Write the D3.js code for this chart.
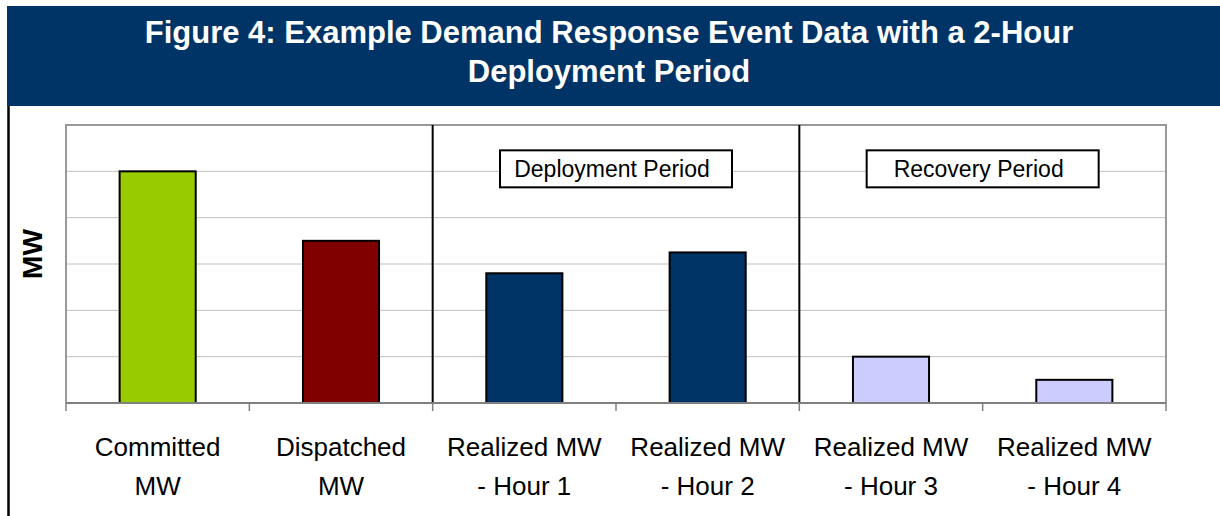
<!DOCTYPE html>
<html>
<head>
<meta charset="utf-8">
<script src="https://cdn.jsdelivr.net/npm/d3@7"></script>
<style>
  body { margin: 0; background: #fff; }
  text { font-family: "Liberation Sans", Arial, sans-serif; }
</style>
</head>
<body>
<div id="chart"></div>
<script>
// data (y axis has no labels, so values are in gridline units)
var categories = ["Committed MW", "Dispatched MW", "Realized MW - Hour 1",
                  "Realized MW - Hour 2", "Realized MW - Hour 3", "Realized MW - Hour 4"];
var labelLines = [["Committed", "MW"], ["Dispatched", "MW"], ["Realized MW", "- Hour 1"],
                  ["Realized MW", "- Hour 2"], ["Realized MW", "- Hour 3"], ["Realized MW", "- Hour 4"]];
var values = [5, 3.5, 2.8, 3.25, 1, 0.5];
var yTicks = [0, 1, 2, 3, 4, 5, 6];
var periods = [
  {label: "Deployment Period", first: "Realized MW - Hour 1", last: "Realized MW - Hour 2"},
  {label: "Recovery Period", first: "Realized MW - Hour 3", last: "Realized MW - Hour 4"}
];
var titleLines = ["Figure 4: Example Demand Response Event Data with a 2-Hour", "Deployment Period"];

var barColors = ["#99cc00", "#800000", "#003366", "#003366", "#ccccff", "#ccccff"];

var W = 1220, H = 516;
var margin = {top: 125, left: 66, right: 54, bottom: 113};
var width = W - margin.left - margin.right,
    height = H - margin.top - margin.bottom;

var svg = d3.select("#chart")
  .append("svg")
    .attr("width", W)
    .attr("height", H);

// header band
svg.append("rect")
  .attr("x", 7).attr("y", 6)
  .attr("width", W - 7).attr("height", 100)
  .attr("fill", "#003366");

svg.selectAll(".title")
  .data(titleLines)
  .enter().append("text")
    .attr("class", "title")
    .attr("x", 609)
    .attr("y", function(d, i) { return 43 + i * 39; })
    .attr("text-anchor", "middle")
    .attr("fill", "#fff")
    .attr("font-weight", "bold")
    .attr("font-size", "31px")
    .text(function(d) { return d; });

// left frame line
svg.append("line")
  .attr("x1", 8.5).attr("x2", 8.5)
  .attr("y1", 106).attr("y2", H)
  .attr("stroke", "#000")
  .attr("stroke-width", 2.5);

var g = svg.append("g")
  .attr("transform", "translate(" + margin.left + "," + margin.top + ")");

var x = d3.scaleBand()
  .domain(categories)
  .range([0, width])
  .paddingInner(0.585)
  .paddingOuter(0.2925);

var y = d3.scaleLinear()
  .domain([0, 6])
  .range([height, 0]);

// gridlines
g.selectAll(".grid")
  .data(yTicks.slice(1, -1))
  .enter().append("line")
    .attr("x1", 0).attr("x2", width)
    .attr("y1", function(d) { return y(d); })
    .attr("y2", function(d) { return y(d); })
    .attr("stroke", "#c0c0c0")
    .attr("stroke-width", 1);

// plot border (top, right, left)
g.append("path")
  .attr("d", "M0," + height + "V" + y(6) + "H" + width + "V" + height)
  .attr("fill", "none")
  .attr("stroke", "#999")
  .attr("stroke-width", 2);

// period dividers and boxes
var step = x.step();
function boundary(name) { return x(name) - x.paddingOuter() * step; }

g.selectAll(".divider")
  .data(periods)
  .enter().append("line")
    .attr("x1", function(d) { return boundary(d.first); })
    .attr("x2", function(d) { return boundary(d.first); })
    .attr("y1", y(6)).attr("y2", height)
    .attr("stroke", "#000")
    .attr("stroke-width", 2);

var box = g.selectAll(".period")
  .data(periods)
  .enter().append("g")
    .attr("class", "period")
    .attr("transform", function(d) {
      var cx = (boundary(d.first) + boundary(d.last) + step) / 2;
      return "translate(" + cx + "," + (y(5) - 2) + ")";
    });

box.append("rect")
  .attr("x", -116).attr("y", -19)
  .attr("width", 232).attr("height", 37)
  .attr("fill", "#fff")
  .attr("stroke", "#000")
  .attr("stroke-width", 2);

box.append("text")
  .attr("x", -4)
  .attr("text-anchor", "middle")
  .attr("dy", "0.35em")
  .attr("font-size", "23px")
  .attr("fill", "#000")
  .text(function(d) { return d.label; });

// bars
g.selectAll(".bar")
  .data(values)
  .enter().append("rect")
    .attr("class", "bar")
    .attr("x", function(d, i) { return x(categories[i]); })
    .attr("y", function(d) { return y(d); })
    .attr("width", x.bandwidth())
    .attr("height", function(d) { return height - y(d); })
    .attr("fill", function(d, i) { return barColors[i]; })
    .attr("stroke", "#000")
    .attr("stroke-width", 2);

// x axis: baseline and ticks at category boundaries
var axis = g.append("g")
  .attr("transform", "translate(0," + height + ")");

axis.append("line")
  .attr("x1", 0).attr("x2", width)
  .attr("stroke", "#808080")
  .attr("stroke-width", 2);

axis.selectAll(".tick")
  .data(d3.range(categories.length + 1))
  .enter().append("line")
    .attr("x1", function(i) { return i * step; })
    .attr("x2", function(i) { return i * step; })
    .attr("y1", 0).attr("y2", 8)
    .attr("stroke", "#808080")
    .attr("stroke-width", 1.5);

var lbl = axis.selectAll(".cat")
  .data(categories)
  .enter().append("text")
    .attr("class", "cat")
    .attr("text-anchor", "middle")
    .attr("font-size", "26px")
    .attr("fill", "#000")
    .attr("x", function(d) { return x(d) + x.bandwidth() / 2; });

lbl.selectAll("tspan")
  .data(function(d, i) { return labelLines[i]; })
  .enter().append("tspan")
    .attr("x", function() { return d3.select(this.parentNode).attr("x"); })
    .attr("y", function(d, i) { return 53 + i * 39; })
    .text(function(d) { return d; });

// y axis title
svg.append("text")
  .attr("transform", "translate(" + 42 + "," + 254 + ") rotate(-90)")
  .attr("text-anchor", "middle")
  .attr("font-weight", "bold")
  .attr("font-size", "28px")
  .attr("fill", "#000")
  .text("MW");
</script>
</body>
</html>
